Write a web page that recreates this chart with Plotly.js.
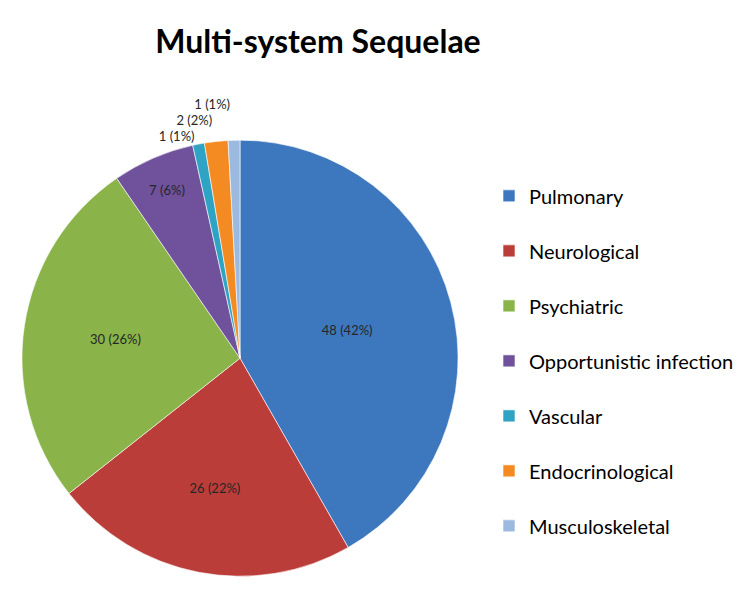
<!DOCTYPE html>
<html>
<head>
<meta charset="utf-8">
<script src="https://cdn.plot.ly/plotly-3.0.1.min.js"></script>
<style>html,body{margin:0;padding:0;background:#fff;}#chart{width:750px;height:604px;}
#chart path.textline{display:none;}</style>
</head>
<body>
<div id="chart"></div>
<script>
const categories = ["Pulmonary", "Neurological", "Psychiatric", "Opportunistic infection", "Vascular", "Endocrinological", "Musculoskeletal"];
const counts = [48, 26, 30, 7, 1, 2, 1];
const percentLabels = ["42%", "22%", "26%", "6%", "1%", "2%", "1%"];
const colors = ["#3D78BF", "#BA3D3A", "#8AB44A", "#70519C", "#2FA3C3", "#F48A22", "#9CB9E0"];
const textPositions = ["inside", "inside", "inside", "inside", "outside", "outside", "outside"];

const trace = {
  type: "pie",
  labels: categories.map(c => c + "<br> "),
  values: counts,
  text: percentLabels,
  texttemplate: "%{value} (%{text})",
  textposition: textPositions,
  insidetextorientation: "horizontal",
  textfont: {family: "Lato, sans-serif", size: 13, color: "#262626"},
  outsidetextfont: {family: "Lato, sans-serif", size: 13, color: "#262626"},
  sort: false,
  direction: "clockwise",
  rotation: 0,
  marker: {colors: colors, line: {color: "rgba(255,255,255,0.6)", width: 1}},
  domain: {x: [0.029, 0.611], y: [0.046, 0.768]},
  hoverinfo: "label+value"
};

const layout = {
  width: 750, height: 604,
  margin: {l: 0, r: 0, t: 0, b: 0},
  paper_bgcolor: "#ffffff",
  title: {text: "<b>Multi-system Sequelae</b>", x: 0.424, xanchor: "center", y: 0.93, yanchor: "middle",
          font: {family: "Lato, sans-serif", size: 32, color: "#000000"}},
  showlegend: true,
  legend: {x: 0.652, xanchor: "left", y: 0.708, yanchor: "top", valign: "top",
           font: {family: "Lato, sans-serif", size: 20, color: "#000000"}, bgcolor: "rgba(0,0,0,0)"}
};

Plotly.newPlot("chart", [trace], layout, {displayModeBar: false, staticPlot: true});
</script>
</body>
</html>
